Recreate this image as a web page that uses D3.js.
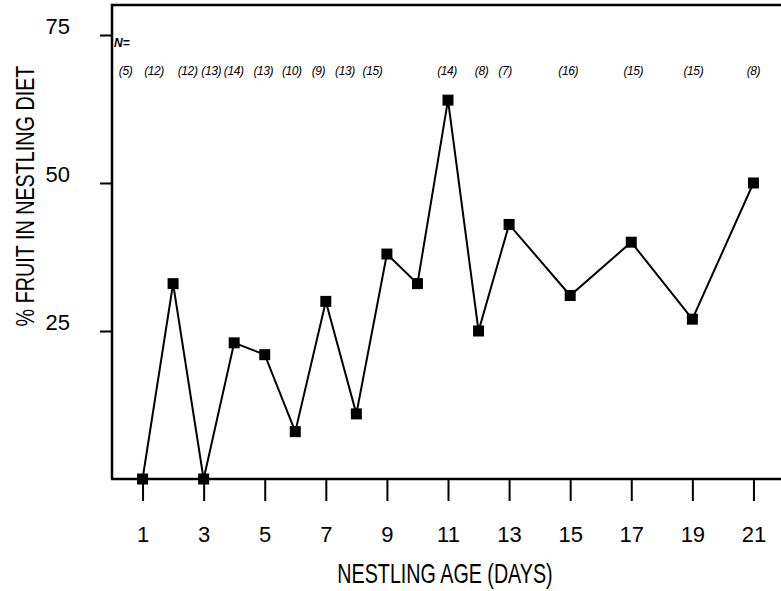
<!DOCTYPE html>
<html>
<head>
<meta charset="utf-8">
<script src="https://cdn.jsdelivr.net/npm/d3@7"></script>
<style>
  html, body { margin: 0; padding: 0; background: #fff; }
  svg { display: block; }
  text { font-family: "Liberation Sans", Arial, sans-serif; fill: #000; }
</style>
</head>
<body>
<svg id="chart" width="781" height="591"></svg>
<script>
// ---- data ----
const ages = [1, 2, 3, 4, 5, 6, 7, 8, 9, 10, 11, 12, 13, 15, 17, 19, 21];
const fruitPct = [0, 33, 0, 23, 21, 8, 30, 11, 38, 33, 64, 25, 43, 31, 40, 27, 50];
const sampleN = [5, 12, 12, 13, 14, 13, 10, 9, 13, 15, 14, 8, 7, 16, 15, 15, 8];
const xTicks = [1, 3, 5, 7, 9, 11, 13, 15, 17, 19, 21];
const yTicks = [25, 50, 75];

// ---- layout (hand-lettered N labels are shifted left of their days) ----
const nLabelNudge = [-17, -19, -16, -23, -31, -32, -34, -38, -42, -45, -1, 3, -4, -2, 2, 1, 0];

(function () {
const svg = d3.select("#chart");
const x = d3.scaleLinear().domain([0, 22]).range([112, 784]);
const y = d3.scaleLinear().domain([0, 75]).range([479, 35]);
const frameTop = 5, bottom = y(0), left = x(0);

// frame: left axis, top border, bottom axis
svg.append("path")
  .attr("d", `M${left},${bottom} L${left},${frameTop} L781,${frameTop}`)
  .attr("fill", "none").attr("stroke", "#000").attr("stroke-width", 2.5);
svg.append("line")
  .attr("x1", left - 1).attr("x2", 781).attr("y1", bottom).attr("y2", bottom)
  .attr("stroke", "#000").attr("stroke-width", 2.5);

// x ticks
const xAxis = svg.append("g").attr("transform", `translate(0,${bottom})`)
  .call(d3.axisBottom(x).tickValues(xTicks).tickSize(22).tickPadding(25).tickFormat(d3.format("d")));
xAxis.select(".domain").remove();
xAxis.selectAll("line").attr("stroke", "#000").attr("stroke-width", 2);
xAxis.selectAll("text").attr("font-size", 22).attr("font-family", "Liberation Sans, Arial, sans-serif");

// y ticks
const yAxis = svg.append("g").attr("transform", `translate(${left},0)`)
  .call(d3.axisLeft(y).tickValues(yTicks).tickSize(12).tickPadding(30).tickFormat(d3.format("d")));
yAxis.select(".domain").remove();
yAxis.selectAll("line").attr("stroke", "#000").attr("stroke-width", 2);
yAxis.selectAll("text").attr("font-size", 22).attr("dy", "-0.08em")
  .attr("font-family", "Liberation Sans, Arial, sans-serif");

// axis titles (condensed lettering)
svg.append("text")
  .attr("transform", "translate(445,583) scale(0.73,1)")
  .attr("text-anchor", "middle")
  .attr("font-size", 27)
  .text("NESTLING AGE (DAYS)");

svg.append("text")
  .attr("transform", "translate(34,196) rotate(-90) scale(0.76,1)")
  .attr("text-anchor", "middle")
  .attr("font-size", 26)
  .text("% FRUIT IN NESTLING DIET");

// N labels
svg.append("text")
  .attr("x", left + 2).attr("y", 47)
  .attr("font-size", 12).attr("font-weight", "bold").attr("font-style", "italic")
  .text("N=");

svg.append("g").selectAll("text")
  .data(ages)
  .join("text")
  .attr("x", (d, i) => x(d) + nLabelNudge[i])
  .attr("y", 75)
  .attr("text-anchor", "middle")
  .attr("font-size", 12)
  .attr("letter-spacing", "-0.4")
  .attr("font-style", "italic")
  .text((d, i) => `(${sampleN[i]})`);

// line
const line = d3.line().x((d, i) => x(ages[i])).y(d => y(d));
svg.append("path")
  .datum(fruitPct)
  .attr("d", line)
  .attr("fill", "none").attr("stroke", "#000").attr("stroke-width", 2);

// markers
const m = 11;
svg.append("g").selectAll("rect")
  .data(fruitPct)
  .join("rect")
  .attr("x", (d, i) => x(ages[i]) - m / 2)
  .attr("y", d => y(d) - m / 2)
  .attr("width", m).attr("height", m)
  .attr("fill", "#000");
})();
</script>
</body>
</html>
